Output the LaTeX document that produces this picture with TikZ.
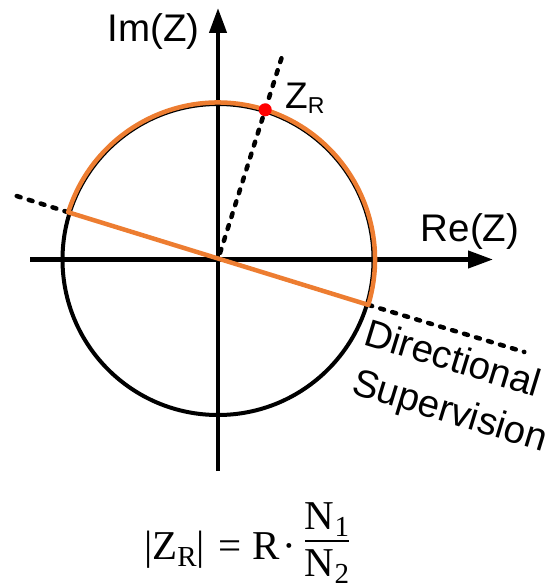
\documentclass[tikz,border=0pt]{standalone}
\usepackage{fontspec}
\setmainfont{Liberation Sans}
\newfontfamily\eqfont{Liberation Serif}
\usetikzlibrary{arrows.meta,calc}
\definecolor{pporange}{RGB}{237,125,49}
\newcommand{\eqsub}[2]{#1\raisebox{-7pt}{\fontsize{29}{29}\selectfont #2}}
\begin{document}
\begin{tikzpicture}[x=1pt,y=1pt,
  axis/.style={line width=4.2pt, -{Triangle[length=25pt,width=17pt]}},
  circ/.style={line width=4pt},
  orangeline/.style={line width=4.5pt, draw=pporange, line join=round},
  dashline/.style={line width=4.5pt, dash pattern=on 4pt off 8.5pt, line cap=round},
  lbl/.style={font=\fontsize{38.5}{44}\selectfont, inner sep=0pt},
  mth/.style={font=\eqfont\fontsize{41}{46}\selectfont, inner sep=0pt}
]
\useasboundingbox (0,0) rectangle (558,-585);
\coordinate (O) at (218,-259.5);
\coordinate (xs) at (30,-259.5);
\coordinate (xe) at (493,-259.5);
\coordinate (ys) at (218,-471);
\coordinate (ye) at (218,-8);
\draw[circ] (O) circle (155.5);
\draw[axis] (xs) -- (xe);
\draw[axis] (ys) -- (ye);
\coordinate (L) at ($(O)+(162.5:157)$);
\coordinate (Rc) at ($(O)+(-16.8:157)$);
\coordinate (Lend) at ($(O)+(162.5:214)$);
\coordinate (Rend) at ($(O)+(-16.8:320)$);
\coordinate (ZR) at ($(O)+(72.5:157)$);
\coordinate (Zs) at ($(O)+(72.5:7)$);
\coordinate (Zend) at ($(O)+(72.5:215)$);
\draw[dashline] (L) -- (Lend);
\draw[dashline] (Rc) -- (Rend);
\draw[dashline] (Zs) -- (Zend);
\draw[orangeline] (L) arc (162.5:-16.8:157) -- cycle;
\fill[red] (ZR) circle (6.5);
\node[lbl, anchor=base] (im) at (153.4,-41.5) {Im(Z)};
\node[lbl, anchor=base] (re) at (470,-241) {Re(Z)};
\node[inner sep=0pt, anchor=base west, font=\fontsize{37}{40}\selectfont] (zr) at (285,-108.3) {Z\raisebox{-5pt}{\fontsize{23}{23}\selectfont R}};
\node[lbl, anchor=base west, rotate=-17] (dir) at (362,-344) {Directional};
\node[lbl, anchor=base west, rotate=-17] (sup) at (350,-393) {Supervision};
% formula
\node[mth, anchor=base west] (lhs) at (144,-559) {|\eqsub{Z}{R}|};
\node[mth, anchor=base] (eqs) at (230,-559) {=};
\node[mth, anchor=base] (rr) at (266,-559) {R};
\node[mth, anchor=base] (cd) at (289,-559) {\textperiodcentered};
\node[mth, anchor=base] (n1) at (327,-529) {\eqsub{N}{1}};
\node[mth, anchor=base] (n2) at (327,-576) {\eqsub{N}{2}};
\draw[line width=2pt] (305,-540.5) -- (348.5,-540.5);
\end{tikzpicture}
\end{document}
